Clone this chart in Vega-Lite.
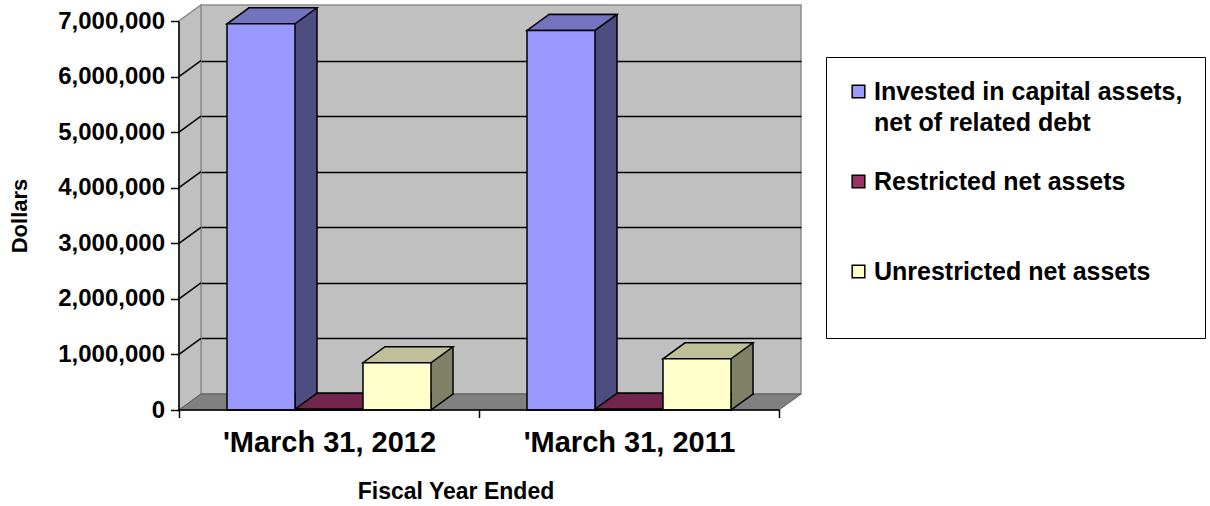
{
  "$schema": "https://vega.github.io/schema/vega-lite/v6.json",
  "width": 600,
  "height": 389,
  "autosize": "none",
  "padding": {"left": 201, "top": 5, "right": 409, "bottom": 112},
  "background": "white",
  "config": {
    "view": {"fill": "#C0C0C0", "stroke": "#8C8C8C", "strokeWidth": 1.5},
    "font": "Liberation Sans",
    "axis": {"labelFont": "Liberation Sans", "titleFont": "Liberation Sans", "labelColor": "black", "titleColor": "black", "labelFontWeight": "bold", "titleFontWeight": "bold"},
    "axisY": {"labelFontSize": 24},
    "axisX": {"labelFontSize": 29},
    "legend": {"labelFont": "Liberation Sans", "labelColor": "black", "labelFontWeight": "bold"}
  },
  "data": {
    "values": [
      {"year": "'March 31, 2012", "series": "Invested in capital assets, net of related debt", "value": 6950000},
      {"year": "'March 31, 2012", "series": "Restricted net assets", "value": 15000},
      {"year": "'March 31, 2012", "series": "Unrestricted net assets", "value": 850000},
      {"year": "'March 31, 2011", "series": "Invested in capital assets, net of related debt", "value": 6830000},
      {"year": "'March 31, 2011", "series": "Restricted net assets", "value": 15000},
      {"year": "'March 31, 2011", "series": "Unrestricted net assets", "value": 920000}
    ]
  },
  "resolve": {"scale": {"xOffset": "independent"}, "axis": {"y": "independent"}},
  "layer": [
    {
      "data": {"values": [{}]},
      "mark": {"type": "point", "shape": "M -172 16 L -172 -373 L -150 -389 L -150 0 Z", "size": 4, "filled": true, "fill": "#C0C0C0", "stroke": "#8C8C8C", "strokeWidth": 1.5, "opacity": 1},
      "encoding": {
        "x": {"datum": "'March 31, 2012", "type": "nominal", "scale": {"type": "band", "domain": ["'March 31, 2012", "'March 31, 2011"], "paddingInner": 0, "paddingOuter": 0}},
        "y": {"datum": 0, "type": "quantitative", "scale": {"domain": [0, 7000000], "nice": false}, "axis": null}
      }
    },
    {
      "data": {"values": [{}]},
      "mark": {"type": "point", "shape": "M -172 -39.57 L -150 -55.57 M -172 -95.14 L -150 -111.14 M -172 -150.71 L -150 -166.71 M -172 -206.29 L -150 -222.29 M -172 -261.86 L -150 -277.86 M -172 -317.43 L -150 -333.43", "size": 4, "filled": false, "stroke": "black", "strokeWidth": 1.5, "opacity": 1},
      "encoding": {
        "x": {"datum": "'March 31, 2012", "type": "nominal"},
        "y": {"datum": 0, "type": "quantitative", "axis": null}
      }
    },
    {
      "data": {"values": [{}]},
      "mark": {"type": "point", "shape": "M -172 16 L 428 16 L 450 0 L -150 0 Z", "size": 4, "filled": true, "fill": "#808080", "stroke": "#5A5A5A", "strokeWidth": 1, "opacity": 1},
      "encoding": {
        "x": {"datum": "'March 31, 2012", "type": "nominal"},
        "y": {"datum": 0, "type": "quantitative", "axis": null}
      }
    },
    {
      "mark": {"type": "bar", "stroke": "black", "strokeWidth": 1.5},
      "encoding": {
        "x": {"field": "year", "type": "nominal"},
        "xOffset": {"field": "series", "type": "nominal", "scale": {"type": "band", "domain": ["Invested in capital assets, net of related debt", "Restricted net assets", "Unrestricted net assets"], "paddingInner": 0, "paddingOuter": 0.706}},
        "y": {"field": "value", "type": "quantitative", "axis": {"orient": "left", "grid": true, "labels": false, "ticks": false, "domain": false, "title": null, "values": [1000000, 2000000, 3000000, 4000000, 5000000, 6000000], "gridColor": "black", "gridWidth": 1.5, "gridOpacity": 1, "zindex": 0}},
        "fill": {"condition": [{"test": "datum.series === 'Invested in capital assets, net of related debt'", "value": "#4D4D80"}, {"test": "datum.series === 'Restricted net assets'", "value": "#4D1A33"}], "value": "#808066"}
      }
    },
    {
      "transform": [{"filter": "datum.series !== 'Restricted net assets'"}],
      "mark": {"type": "point", "shape": "M 34 -1 L 34 0 L 12 16 L 12 -1", "size": 4, "filled": true, "stroke": "black", "strokeWidth": 1.5, "opacity": 1},
      "encoding": {
        "x": {"field": "year", "type": "nominal"},
        "xOffset": {"field": "series", "type": "nominal", "scale": {"type": "band", "domain": ["Invested in capital assets, net of related debt", "Restricted net assets", "Unrestricted net assets"], "paddingInner": 0, "paddingOuter": 0.706}},
        "y": {"datum": 0, "type": "quantitative", "axis": null},
        "fill": {"condition": [{"test": "datum.series === 'Invested in capital assets, net of related debt'", "value": "#4D4D80"}, {"test": "datum.series === 'Restricted net assets'", "value": "#4D1A33"}], "value": "#808066"}
      }
    },
    {
      "mark": {"type": "point", "shape": "M -34 0 L 34 0 L 12 16 L -56 16 Z", "size": 4, "filled": true, "stroke": "black", "strokeWidth": 1.5, "opacity": 1},
      "encoding": {
        "x": {"field": "year", "type": "nominal"},
        "xOffset": {"field": "series", "type": "nominal", "scale": {"type": "band", "domain": ["Invested in capital assets, net of related debt", "Restricted net assets", "Unrestricted net assets"], "paddingInner": 0, "paddingOuter": 0.706}},
        "y": {"field": "value", "type": "quantitative", "axis": null},
        "fill": {"condition": [{"test": "datum.series === 'Invested in capital assets, net of related debt'", "value": "#7373BF"}, {"test": "datum.series === 'Restricted net assets'", "value": "#73264C"}], "value": "#BFBF99"}
      }
    },
    {
      "mark": {"type": "bar", "stroke": "black", "strokeWidth": 1.5, "yOffset": 16, "y2Offset": 16},
      "encoding": {
        "x": {"field": "year", "type": "nominal", "axis": {"title": "Fiscal Year Ended", "tickBand": "extent", "offset": 37.5, "translate": -21.5, "labelAngle": 0, "labelAlign": "center", "labelBaseline": "top", "labelFontSize": 29, "labelPadding": 11, "labelLimit": 400, "tickSize": 8, "tickWidth": 1.5, "tickColor": "black", "domainColor": "black", "domainWidth": 1.5, "titleFontSize": 23, "titleX": 276.5, "titleY": 82, "titleBaseline": "middle", "grid": false, "zindex": 1}},
        "xOffset": {"field": "series", "type": "nominal", "scale": {"type": "band", "domain": ["Invested in capital assets, net of related debt", "Restricted net assets", "Unrestricted net assets"], "range": [-22, 278], "paddingInner": 0, "paddingOuter": 0.706}},
        "y": {"field": "value", "type": "quantitative", "axis": {"orient": "left", "grid": false, "offset": 38.5, "translate": 16.5, "values": [0, 1000000, 2000000, 3000000, 4000000, 5000000, 6000000, 7000000], "labelExpr": "format(datum.value, ',')", "labelFontSize": 24, "labelPadding": 6, "tickSize": 8, "tickWidth": 1.5, "tickColor": "black", "domainColor": "black", "domainWidth": 1.5, "title": "Dollars", "titleFontSize": 22, "titleX": -159, "titleBaseline": "middle", "zindex": 1}},
        "color": {
          "field": "series", "type": "nominal",
          "scale": {"domain": ["Invested in capital assets, net of related debt", "Restricted net assets", "Unrestricted net assets"], "range": ["#9999FF", "#993366", "#FFFFCC"]},
          "legend": {
            "title": null, "orient": "none", "legendX": 625, "legendY": 52,
            "padding": 22, "fillColor": "white", "strokeColor": "black",
            "symbolType": "square", "symbolSize": 160, "symbolStrokeColor": "black", "symbolStrokeWidth": 1.5, "symbolOffset": -2,
            "labelFontSize": 25, "labelOffset": 3, "labelLimit": 420, "rowPadding": 33,
            "labelExpr": "datum.label === 'Invested in capital assets, net of related debt' ? ['Invested in capital assets,', 'net of related debt'] : [datum.label, ' ']",
            "encoding": {"labels": {"lineHeight": {"value": 31}}}
          }
        }
      }
    }
  ]
}
